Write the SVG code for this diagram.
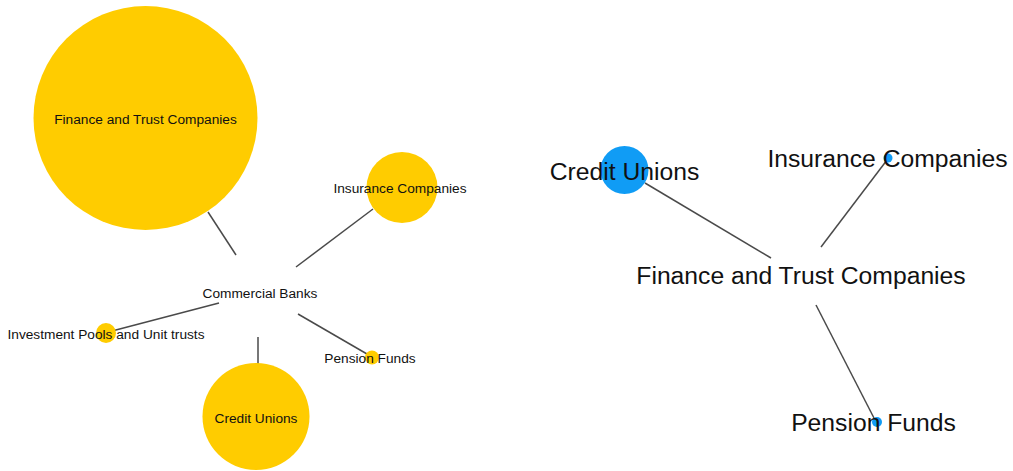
<svg xmlns="http://www.w3.org/2000/svg" width="1013" height="471" viewBox="0 0 1013 471">
<style>
.y{fill:#FFCC00}
.b{fill:#109CF5}
.e line{stroke:#4a4a4a;stroke-width:1.5}
text{font-family:"Liberation Sans",Arial,sans-serif;fill:#111;text-anchor:middle}
.s{font-size:13.7px}
.l{font-size:24.7px}
</style>
<rect width="1013" height="471" fill="#fff"/>
<g id="connectors" class="e">
<line x1="208" y1="212" x2="236" y2="255"/>
<line x1="373" y1="209" x2="296" y2="267"/>
<line x1="219" y1="303" x2="112" y2="331"/>
<line x1="298" y1="314" x2="367" y2="354"/>
<line x1="258" y1="337" x2="258" y2="364"/>
<line x1="645" y1="183" x2="771" y2="258"/>
<line x1="887" y1="160" x2="821" y2="247"/>
<line x1="816" y1="305" x2="875" y2="420"/>
</g>
<g id="l-finance"><circle class="y" cx="145.5" cy="118" r="112"/><text class="s" x="145.5" y="123.5">Finance and Trust Companies</text></g>
<g id="l-insurance"><circle class="y" cx="402" cy="187.5" r="35.5"/><text class="s" x="400" y="192.5">Insurance Companies</text></g>
<g id="l-commercial"><text class="s" x="260" y="298">Commercial Banks</text></g>
<g id="l-investment"><circle class="y" cx="106" cy="333" r="10"/><text class="s" x="106" y="339">Investment Pools and Unit trusts</text></g>
<g id="l-pension"><circle class="y" cx="372" cy="357.5" r="7"/><text class="s" x="370" y="362.5">Pension Funds</text></g>
<g id="l-credit"><circle class="y" cx="256" cy="416.5" r="53.5"/><text class="s" x="256" y="423">Credit Unions</text></g>
<g id="r-credit"><circle class="b" cx="624.5" cy="170" r="24"/><text class="l" x="624.5" y="180">Credit Unions</text></g>
<g id="r-insurance"><circle class="b" cx="888" cy="158" r="4.5"/><text class="l" x="887.5" y="167">Insurance Companies</text></g>
<g id="r-finance"><text class="l" x="801" y="284">Finance and Trust Companies</text></g>
<g id="r-pension"><circle class="b" cx="877" cy="422" r="5"/><text class="l" x="873.5" y="431">Pension Funds</text></g>
</svg>
